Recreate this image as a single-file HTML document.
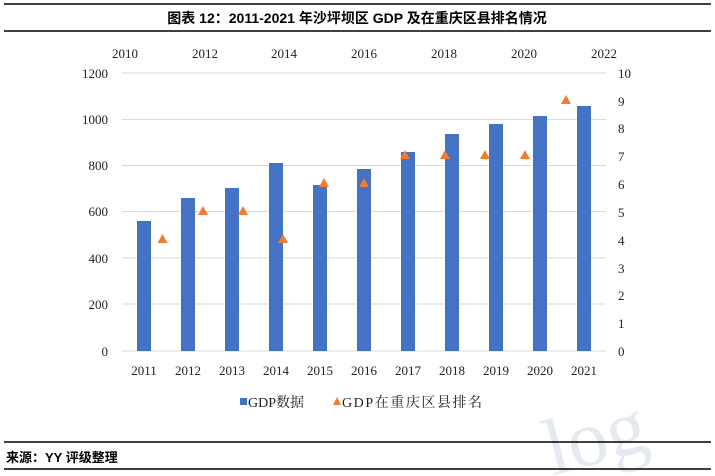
<!DOCTYPE html>
<html><head><meta charset="utf-8"><style>
body{margin:0;background:#fff;width:715px;height:476px;overflow:hidden}
svg{display:block}
svg text{font-family:"Liberation Serif","Noto Serif CJK SC",serif;font-size:13px;fill:#222}
</style></head><body>
<svg width="715" height="476" xmlns="http://www.w3.org/2000/svg">
<text x="545" y="462" style="font-size:80px;fill:#e4e9f2;font-family:'Liberation Serif',serif" transform="rotate(-15 600 440)">log</text>
<line x1="4" y1="4" x2="711" y2="4" stroke="#000" stroke-width="1.5"/>
<text x="357" y="23" text-anchor="middle" style="font-family:'Liberation Sans','Noto Sans CJK SC',sans-serif;font-weight:bold;font-size:14px;fill:#000">图表 12：2011-2021 年沙坪坝区 GDP 及在重庆区县排名情况</text>
<line x1="4" y1="31" x2="711" y2="31" stroke="#000" stroke-width="1.5"/>
<g stroke="#d9d9d9" stroke-width="1">
<line x1="122" y1="73" x2="606" y2="73"/><line x1="122" y1="119.5" x2="606" y2="119.5"/>
<line x1="122" y1="165.5" x2="606" y2="165.5"/><line x1="122" y1="211.5" x2="606" y2="211.5"/>
<line x1="122" y1="258" x2="606" y2="258"/><line x1="122" y1="304" x2="606" y2="304"/>
<line x1="122" y1="351" x2="606" y2="351"/>
</g>
<g text-anchor="end">
<text x="108" y="78">1200</text><text x="108" y="124">1000</text><text x="108" y="170">800</text>
<text x="108" y="216">600</text><text x="108" y="263">400</text><text x="108" y="309">200</text><text x="108" y="356">0</text>
</g>
<g>
<text x="618" y="78">10</text><text x="618" y="106">9</text><text x="618" y="133">8</text><text x="618" y="161">7</text>
<text x="618" y="189">6</text><text x="618" y="217">5</text><text x="618" y="245">4</text><text x="618" y="273">3</text>
<text x="618" y="300">2</text><text x="618" y="328">1</text><text x="618" y="356">0</text>
</g>
<g text-anchor="middle">
<text x="125" y="58">2010</text><text x="205" y="58">2012</text><text x="284" y="58">2014</text><text x="364" y="58">2016</text>
<text x="444" y="58">2018</text><text x="524" y="58">2020</text><text x="604" y="58">2022</text>
</g>
<g fill="#4472c4">
<rect x="137" y="221" width="14" height="130"/>
<rect x="181" y="198" width="14" height="153"/>
<rect x="225" y="188" width="14" height="163"/>
<rect x="269" y="163" width="14" height="188"/>
<rect x="313" y="185" width="14" height="166"/>
<rect x="357" y="169" width="14" height="182"/>
<rect x="401" y="152" width="14" height="199"/>
<rect x="445" y="134" width="14" height="217"/>
<rect x="489" y="124" width="14" height="227"/>
<rect x="533" y="116" width="14" height="235"/>
<rect x="577" y="106" width="14" height="245"/>
</g>
<g text-anchor="middle">
<text x="144" y="375">2011</text><text x="188" y="375">2012</text><text x="232" y="375">2013</text><text x="276" y="375">2014</text>
<text x="320" y="375">2015</text><text x="364" y="375">2016</text><text x="408" y="375">2017</text><text x="452" y="375">2018</text>
<text x="496" y="375">2019</text><text x="540" y="375">2020</text><text x="584" y="375">2021</text>
</g>
<g fill="#ed7d31">
<path d="M162.5,234 l5,9 h-10z"/>
<path d="M203,206 l5,9 h-10z"/>
<path d="M243,206 l5,9 h-10z"/>
<path d="M283,234 l5,9 h-10z"/>
<path d="M324,178 l5,9 h-10z"/>
<path d="M364,178 l5,9 h-10z"/>
<path d="M405,150 l5,9 h-10z"/>
<path d="M445,150 l5,9 h-10z"/>
<path d="M485,150 l5,9 h-10z"/>
<path d="M525,150 l5,9 h-10z"/>
<path d="M566,95 l5,9 h-10z"/>
</g>
<rect x="240" y="398" width="7" height="7" fill="#4472c4"/>
<text x="248" y="407" style="font-size:14px">GDP数据</text>
<path d="M337,397 l4,8 h-8z" fill="#ed7d31"/>
<text x="342" y="407" style="font-size:14px" textLength="140" lengthAdjust="spacing">GDP在重庆区县排名</text>
<line x1="4" y1="442" x2="711" y2="442" stroke="#000" stroke-width="1.5"/>
<text x="6" y="462" style="font-family:'Liberation Sans','Noto Sans CJK SC',sans-serif;font-weight:bold;font-size:13px;fill:#000">来源：YY 评级整理</text>
<line x1="4" y1="469" x2="711" y2="469" stroke="#000" stroke-width="1.5"/>
</svg>
</body></html>
